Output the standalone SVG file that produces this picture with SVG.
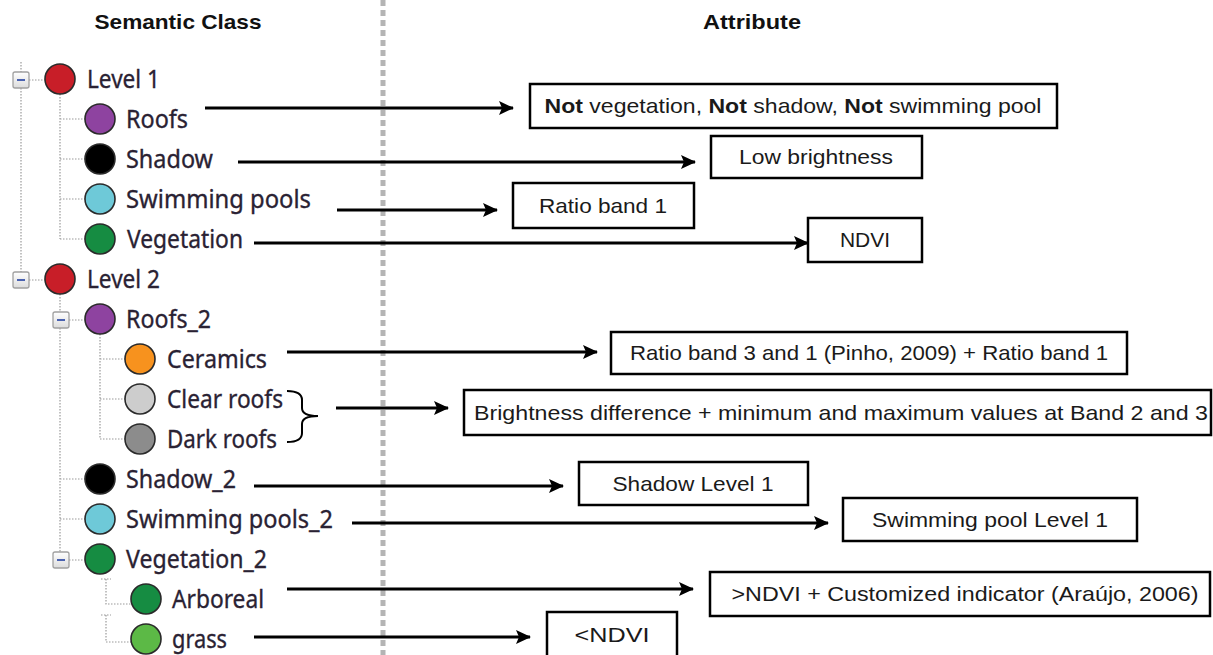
<svg xmlns="http://www.w3.org/2000/svg" width="1213" height="655" viewBox="0 0 1213 655">
<defs>
<style>
.hdr{font-family:"Liberation Sans",Arial,sans-serif;font-weight:bold;font-size:21px;fill:#111;text-anchor:middle}
.lbl{font-family:"Noto Sans","Open Sans",sans-serif;font-size:26px;fill:#2a2233;stroke:#2a2233;stroke-width:0.35}
.box{fill:#fff;stroke:#000;stroke-width:2.5}
.bt{font-family:"Liberation Sans",Arial,sans-serif;font-size:21px;fill:#1a1a1a;text-anchor:middle}
.dot{fill:none;stroke:#9a9a9a;stroke-width:1.2;stroke-dasharray:1.5 1.5}
.node{stroke:#2a2a2a;stroke-width:1.6}
.arr{stroke:#000;stroke-width:3;fill:none;marker-end:url(#ah)}
.tg{fill:url(#tgg);stroke:#a0a0a0;stroke-width:1.3}
.tgm{stroke:#4a62b0;stroke-width:2}
</style>
<marker id="ah" markerUnits="userSpaceOnUse" markerWidth="16" markerHeight="16" refX="14" refY="8" orient="auto">
<path d="M0,1 L15,8 L0,15 L3,8 Z" fill="#000"/>
</marker>
<linearGradient id="tgg" x1="0" y1="0" x2="0" y2="1">
<stop offset="0" stop-color="#ffffff"/>
<stop offset="1" stop-color="#dcdcdc"/>
</linearGradient>
</defs>
<rect width="1213" height="655" fill="#fff"/>

<g id="headers">
<text class="hdr" x="178" y="29" textLength="167" lengthAdjust="spacingAndGlyphs">Semantic Class</text>
<text class="hdr" x="752" y="29" textLength="98" lengthAdjust="spacingAndGlyphs">Attribute</text>
</g>

<line id="divider" x1="383" y1="0" x2="383" y2="655" stroke="#b4b4b4" stroke-width="5" stroke-dasharray="6 4"/>

<g id="tree-lines">
<path class="dot" d="M21,62 V72 M21,88 V272 M29,80 H45 M29,280 H45"/>
<path class="dot" d="M60,94 V239 M60,119 H85 M60,159 H85 M60,199 H85 M60,239 H85"/>
<path class="dot" d="M60,294 V312 M60,328 V552 M69,320 H85 M60,479 H85 M60,519 H85 M69,560 H85"/>
<path class="dot" d="M100,334 V439 M100,359 H125 M100,399 H125 M100,439 H125"/>
<path class="dot" d="M101,579 H111 M106,579 V604 H131 M101,615 H111 M106,615 V642 H131"/>
<rect class="tg" x="13" y="72" width="16" height="16" rx="2"/><line class="tgm" x1="17" y1="80" x2="25" y2="80"/>
<rect class="tg" x="13" y="272" width="16" height="16" rx="2"/><line class="tgm" x1="17" y1="280" x2="25" y2="280"/>
<rect class="tg" x="53" y="312" width="16" height="16" rx="2"/><line class="tgm" x1="57" y1="320" x2="65" y2="320"/>
<rect class="tg" x="53" y="552" width="16" height="16" rx="2"/><line class="tgm" x1="57" y1="560" x2="65" y2="560"/>
</g>

<g id="n-level1"><circle class="node" cx="60" cy="79" r="15" fill="#c81e28"/><text class="lbl" x="87" y="88" textLength="73" lengthAdjust="spacingAndGlyphs">Level 1</text></g>
<g id="n-roofs"><circle class="node" cx="100" cy="119" r="15" fill="#8e43a0"/><text class="lbl" x="126" y="128" textLength="62" lengthAdjust="spacingAndGlyphs">Roofs</text></g>
<g id="n-shadow"><circle class="node" cx="100" cy="159" r="15" fill="#000"/><text class="lbl" x="126" y="168" textLength="87" lengthAdjust="spacingAndGlyphs">Shadow</text></g>
<g id="n-pools"><circle class="node" cx="100" cy="199" r="15" fill="#6ec9d8"/><text class="lbl" x="126" y="208" textLength="185" lengthAdjust="spacingAndGlyphs">Swimming pools</text></g>
<g id="n-veg"><circle class="node" cx="100" cy="239" r="15" fill="#168c42"/><text class="lbl" x="127" y="248" textLength="116" lengthAdjust="spacingAndGlyphs">Vegetation</text></g>
<g id="n-level2"><circle class="node" cx="60" cy="279" r="15" fill="#c81e28"/><text class="lbl" x="87" y="288" textLength="73" lengthAdjust="spacingAndGlyphs">Level 2</text></g>
<g id="n-roofs2"><circle class="node" cx="100" cy="319" r="15" fill="#8e43a0"/><text class="lbl" x="126" y="328" textLength="85" lengthAdjust="spacingAndGlyphs">Roofs_2</text></g>
<g id="n-ceramics"><circle class="node" cx="140" cy="359" r="15" fill="#f7921e"/><text class="lbl" x="167" y="368" textLength="100" lengthAdjust="spacingAndGlyphs">Ceramics</text></g>
<g id="n-clear"><circle class="node" cx="140" cy="399" r="15" fill="#cdcdcd"/><text class="lbl" x="167" y="408" textLength="116" lengthAdjust="spacingAndGlyphs">Clear roofs</text></g>
<g id="n-dark"><circle class="node" cx="140" cy="439" r="15" fill="#8c8c8c"/><text class="lbl" x="167" y="448" textLength="110" lengthAdjust="spacingAndGlyphs">Dark roofs</text></g>
<g id="n-shadow2"><circle class="node" cx="100" cy="479" r="15" fill="#000"/><text class="lbl" x="126" y="488" textLength="110" lengthAdjust="spacingAndGlyphs">Shadow_2</text></g>
<g id="n-pools2"><circle class="node" cx="100" cy="519" r="15" fill="#6ec9d8"/><text class="lbl" x="126" y="528" textLength="207" lengthAdjust="spacingAndGlyphs">Swimming pools_2</text></g>
<g id="n-veg2"><circle class="node" cx="100" cy="559" r="15" fill="#168c42"/><text class="lbl" x="126" y="568" textLength="141" lengthAdjust="spacingAndGlyphs">Vegetation_2</text></g>
<g id="n-arboreal"><circle class="node" cx="146" cy="599" r="15" fill="#168c42"/><text class="lbl" x="172" y="608" textLength="92" lengthAdjust="spacingAndGlyphs">Arboreal</text></g>
<g id="n-grass"><circle class="node" cx="146" cy="639" r="15" fill="#5cb946"/><text class="lbl" x="172" y="648" textLength="55" lengthAdjust="spacingAndGlyphs">grass</text></g>

<g id="brace"><path d="M287,391 Q302,391 302,400 L302,408 Q302,416 318,416 Q302,416 302,424 L302,433 Q302,442 287,442" fill="none" stroke="#000" stroke-width="2"/></g>

<g id="connectors">
<line class="arr" x1="205" y1="108" x2="513" y2="108"/>
<line class="arr" x1="238" y1="162" x2="695" y2="162"/>
<line class="arr" x1="337" y1="210" x2="497" y2="210"/>
<line class="arr" x1="254" y1="243" x2="808" y2="243"/>
<line class="arr" x1="287" y1="352" x2="597" y2="352"/>
<line class="arr" x1="336" y1="408" x2="448" y2="408"/>
<line class="arr" x1="254" y1="486" x2="563" y2="486"/>
<line class="arr" x1="352" y1="523" x2="828" y2="523"/>
<line class="arr" x1="287" y1="589" x2="693" y2="589"/>
<line class="arr" x1="254" y1="637" x2="530" y2="637"/>
</g>

<g id="a-roofs"><rect class="box" x="530" y="84" width="527" height="44"/><text class="bt" x="793" y="113" textLength="497" lengthAdjust="spacingAndGlyphs"><tspan font-weight="bold">Not</tspan> vegetation, <tspan font-weight="bold">Not</tspan> shadow, <tspan font-weight="bold">Not</tspan> swimming pool</text></g>
<g id="a-shadow"><rect class="box" x="711" y="136" width="211" height="42"/><text class="bt" x="816" y="164" textLength="154" lengthAdjust="spacingAndGlyphs">Low brightness</text></g>
<g id="a-pools"><rect class="box" x="513" y="183" width="181" height="45"/><text class="bt" x="603" y="213" textLength="128" lengthAdjust="spacingAndGlyphs">Ratio band 1</text></g>
<g id="a-veg"><rect class="box" x="808" y="218" width="114" height="44"/><text class="bt" x="865" y="247">NDVI</text></g>
<g id="a-ceramics"><rect class="box" x="611" y="332" width="516" height="42"/><text class="bt" x="869" y="360" textLength="478" lengthAdjust="spacingAndGlyphs">Ratio band 3 and 1 (Pinho, 2009) + Ratio band 1</text></g>
<g id="a-roofs-cd"><rect class="box" x="464" y="390" width="747" height="45"/><text class="bt" x="841" y="420" textLength="734" lengthAdjust="spacingAndGlyphs">Brightness difference + minimum and maximum values at Band 2 and 3</text></g>
<g id="a-shadow2"><rect class="box" x="579" y="462" width="229" height="43"/><text class="bt" x="693" y="491" textLength="161" lengthAdjust="spacingAndGlyphs">Shadow Level 1</text></g>
<g id="a-pools2"><rect class="box" x="843" y="498" width="294" height="43"/><text class="bt" x="990" y="527" textLength="236" lengthAdjust="spacingAndGlyphs">Swimming pool Level 1</text></g>
<g id="a-arboreal"><rect class="box" x="710" y="572" width="500" height="44"/><text class="bt" x="965" y="601" textLength="467" lengthAdjust="spacingAndGlyphs">&gt;NDVI + Customized indicator (Araújo, 2006)</text></g>
<g id="a-grass"><rect class="box" x="547" y="612" width="130" height="46"/><text class="bt" x="612" y="642" textLength="75" lengthAdjust="spacingAndGlyphs">&lt;NDVI</text></g>
</svg>
